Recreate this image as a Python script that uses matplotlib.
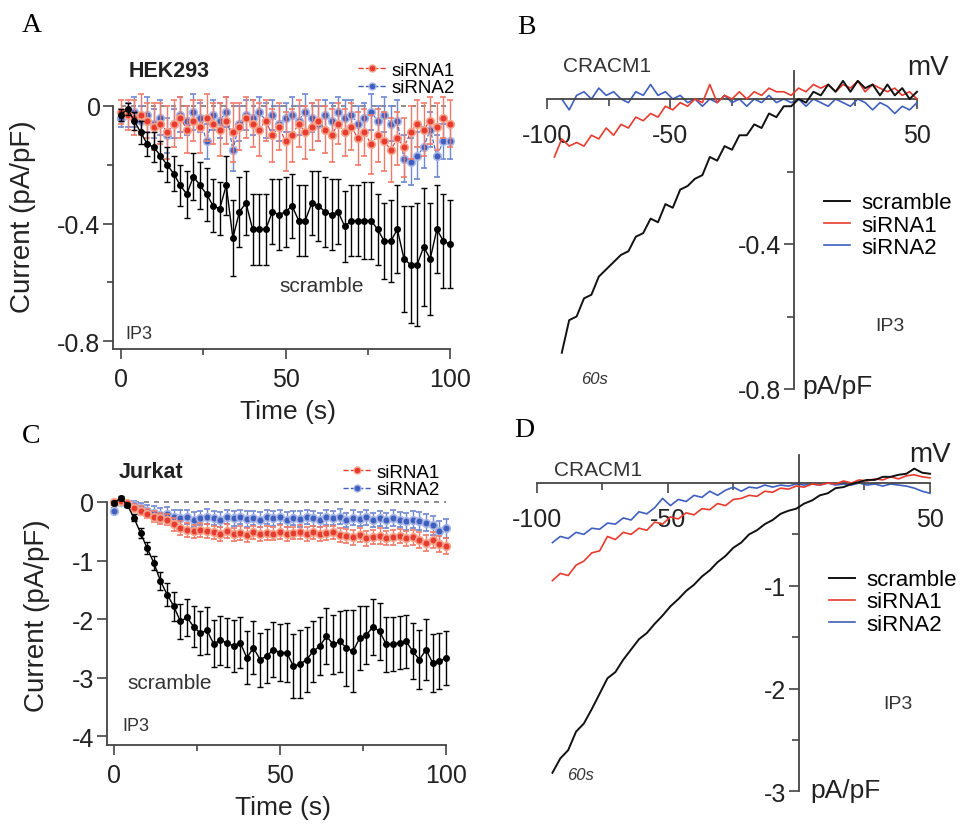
import numpy as np
import matplotlib
matplotlib.use('Agg')
import matplotlib.pyplot as plt
from matplotlib.lines import Line2D

plt.rcParams['font.family'] = ['Liberation Sans', 'DejaVu Sans']
plt.rcParams['axes.unicode_minus'] = False

W, H = 960, 828
RED = '#e63b2e'
BLUE = '#3f5fbf'
AXC = '#444444'

# time courses (s)
t = np.arange(0, 101, 2)

# panel A - HEK293
a_scr = [-0.03, -0.01, -0.05, -0.09, -0.13, -0.14, -0.17, -0.20, -0.23, -0.27,
         -0.30, -0.24, -0.27, -0.30, -0.34, -0.35, -0.27, -0.45, -0.36, -0.33,
         -0.42, -0.42, -0.42, -0.36, -0.37, -0.36, -0.34, -0.39, -0.39, -0.33,
         -0.34, -0.36, -0.37, -0.36, -0.41, -0.39, -0.39, -0.39, -0.39, -0.42,
         -0.46, -0.46, -0.42, -0.52, -0.54, -0.54, -0.48, -0.52, -0.42, -0.46,
         -0.47]
a_scr_err = [0.02, 0.02, 0.03, 0.04, 0.04, 0.05, 0.05, 0.06, 0.06, 0.07,
             0.08, 0.08, 0.08, 0.09, 0.09, 0.09, 0.10, 0.13, 0.12, 0.11,
             0.12, 0.12, 0.12, 0.11, 0.12, 0.12, 0.11, 0.12, 0.12, 0.11,
             0.12, 0.12, 0.12, 0.11, 0.12, 0.12, 0.12, 0.13, 0.13, 0.12,
             0.13, 0.14, 0.15, 0.18, 0.20, 0.21, 0.20, 0.19, 0.15, 0.16,
             0.15]
a_si1 = [-0.02, -0.03, -0.04, -0.03, -0.05, -0.07, -0.06, -0.09, -0.06, -0.04,
         -0.08, -0.05, -0.07, -0.04, -0.06, -0.08, -0.05, -0.09, -0.07, -0.04,
         -0.06, -0.08, -0.05, -0.10, -0.07, -0.12, -0.10, -0.06, -0.09, -0.07,
         -0.05, -0.08, -0.10, -0.06, -0.09, -0.07, -0.11, -0.09, -0.13, -0.10,
         -0.12, -0.15, -0.11, -0.14, -0.09, -0.06, -0.08, -0.05, -0.07, -0.04,
         -0.06]
a_si1_err = [0.04, 0.05, 0.06, 0.07, 0.06, 0.08, 0.07, 0.09, 0.08, 0.07,
             0.08, 0.07, 0.09, 0.08, 0.07, 0.09, 0.08, 0.10, 0.08, 0.07,
             0.08, 0.09, 0.07, 0.09, 0.08, 0.10, 0.09, 0.08, 0.09, 0.08,
             0.07, 0.08, 0.09, 0.07, 0.08, 0.08, 0.09, 0.08, 0.10, 0.09,
             0.10, 0.11, 0.09, 0.10, 0.09, 0.08, 0.09, 0.08, 0.08, 0.07,
             0.08]
a_si2 = [-0.04, -0.03, -0.02, -0.05, -0.03, -0.06, -0.04, -0.10, -0.06, -0.03,
         -0.05, -0.02, -0.04, -0.12, -0.03, -0.05, -0.02, -0.15, -0.06, -0.03,
         -0.04, -0.02, -0.05, -0.03, -0.06, -0.04, -0.03, -0.05, -0.02, -0.04,
         -0.06, -0.03, -0.05, -0.02, -0.04, -0.03, -0.06, -0.04, -0.02, -0.05,
         -0.03, -0.06, -0.05, -0.18, -0.19, -0.17, -0.14, -0.08, -0.17, -0.12,
         -0.12]
a_si2_err = [0.03, 0.04, 0.05, 0.05, 0.06, 0.05, 0.06, 0.06, 0.05, 0.06,
             0.05, 0.06, 0.05, 0.06, 0.05, 0.06, 0.05, 0.07, 0.06, 0.05,
             0.06, 0.05, 0.06, 0.05, 0.06, 0.05, 0.06, 0.05, 0.06, 0.05,
             0.06, 0.05, 0.06, 0.05, 0.06, 0.05, 0.06, 0.05, 0.06, 0.05,
             0.06, 0.06, 0.07, 0.08, 0.08, 0.08, 0.07, 0.06, 0.07, 0.06,
             0.06]

# panel C - Jurkat
c_scr = [-0.02, 0.07, -0.05, -0.27, -0.53, -0.79, -1.04, -1.35, -1.58, -1.78,
         -2.04, -1.97, -2.13, -2.24, -2.19, -2.42, -2.36, -2.40, -2.46, -2.40,
         -2.66, -2.49, -2.69, -2.63, -2.52, -2.57, -2.57, -2.80, -2.77, -2.69,
         -2.55, -2.46, -2.29, -2.43, -2.38, -2.49, -2.55, -2.32, -2.27, -2.13,
         -2.21, -2.43, -2.43, -2.40, -2.38, -2.55, -2.69, -2.52, -2.75, -2.72,
         -2.66]
c_scr_err = [0.03, 0.03, 0.04, 0.06, 0.08, 0.10, 0.12, 0.15, 0.20, 0.25,
             0.30, 0.32, 0.35, 0.38, 0.40, 0.40, 0.42, 0.42, 0.44, 0.44,
             0.45, 0.45, 0.46, 0.46, 0.47, 0.48, 0.50, 0.55, 0.58, 0.55,
             0.52, 0.50, 0.48, 0.50, 0.52, 0.65, 0.70, 0.55, 0.50, 0.48,
             0.48, 0.47, 0.46, 0.45, 0.45, 0.48, 0.50, 0.52, 0.50, 0.48,
             0.46]
c_si1 = [0.00, 0.02, -0.02, -0.10, -0.15, -0.20, -0.25, -0.28, -0.30, -0.38,
         -0.45, -0.48, -0.50, -0.47, -0.50, -0.52, -0.54, -0.50, -0.55, -0.53,
         -0.56, -0.52, -0.55, -0.53, -0.54, -0.52, -0.55, -0.53, -0.51, -0.54,
         -0.52, -0.55, -0.53, -0.52, -0.56, -0.58, -0.60, -0.57, -0.62, -0.60,
         -0.58, -0.62, -0.60, -0.58, -0.62, -0.60, -0.65, -0.70, -0.65, -0.72,
         -0.75]
c_si1_err = [0.03, 0.03, 0.04, 0.06, 0.08, 0.08, 0.09, 0.10, 0.10, 0.11,
             0.12, 0.12, 0.11, 0.12, 0.12, 0.11, 0.12, 0.12, 0.11, 0.12,
             0.12, 0.11, 0.12, 0.12, 0.11, 0.12, 0.12, 0.11, 0.12, 0.12,
             0.11, 0.12, 0.12, 0.11, 0.12, 0.12, 0.13, 0.12, 0.13, 0.12,
             0.13, 0.12, 0.13, 0.12, 0.13, 0.13, 0.14, 0.13, 0.14, 0.14,
             0.14]
c_si2 = [-0.15, 0.00, -0.03, -0.05, -0.10, -0.15, -0.18, -0.22, -0.20, -0.25,
         -0.27, -0.25, -0.30, -0.27, -0.25, -0.28, -0.30, -0.26, -0.28, -0.25,
         -0.29, -0.27, -0.30, -0.26, -0.28, -0.25, -0.30, -0.27, -0.29, -0.25,
         -0.28, -0.30, -0.26, -0.28, -0.25, -0.30, -0.27, -0.29, -0.26, -0.30,
         -0.28, -0.31, -0.27, -0.30, -0.33, -0.30, -0.32, -0.35, -0.40, -0.50,
         -0.45]
c_si2_err = [0.05, 0.04, 0.05, 0.07, 0.09, 0.10, 0.11, 0.12, 0.12, 0.12,
             0.13, 0.12, 0.13, 0.12, 0.13, 0.12, 0.13, 0.12, 0.13, 0.12,
             0.13, 0.12, 0.13, 0.12, 0.13, 0.12, 0.13, 0.12, 0.13, 0.12,
             0.13, 0.12, 0.13, 0.12, 0.13, 0.12, 0.13, 0.12, 0.13, 0.12,
             0.13, 0.13, 0.14, 0.13, 0.14, 0.14, 0.15, 0.15, 0.16, 0.17,
             0.16]

# I-V curves (mV)
v = np.arange(-94, 51, 3)
v_red_b = np.arange(-97, 51, 3)

b_scr = [-0.70, -0.61, -0.60, -0.55, -0.54, -0.49, -0.47, -0.45, -0.43, -0.42,
         -0.38, -0.37, -0.33, -0.34, -0.29, -0.30, -0.25, -0.24, -0.22, -0.21,
         -0.16, -0.17, -0.13, -0.14, -0.10, -0.10, -0.07, -0.08, -0.04, -0.05,
         -0.02, -0.02, 0.00, -0.01, 0.02, 0.01, 0.04, 0.02, 0.05, 0.02,
         0.05, 0.03, 0.04, 0.01, 0.04, 0.01, 0.03, 0.00, 0.02]
b_si1 = [-0.16, -0.11, -0.13, -0.12, -0.13, -0.10, -0.11, -0.08, -0.10, -0.07,
         -0.08, -0.05, -0.06, -0.04, -0.05, -0.02, -0.03, -0.01, -0.02, 0.00,
         -0.01, 0.04, -0.01, 0.01, 0.00, 0.02, 0.00, 0.02, 0.01, 0.03,
         0.02, 0.02, 0.01, 0.03, 0.02, 0.04, 0.03, 0.04, 0.02, 0.04,
         0.03, 0.05, 0.02, 0.04, 0.03, 0.02, 0.03, 0.01, 0.02, 0.00]
b_si2 = [0.00, -0.03, 0.01, 0.02, 0.00, 0.03, 0.01, 0.02, 0.00, -0.01,
         0.02, 0.01, 0.04, 0.01, 0.02, 0.00, 0.01, -0.01, 0.00, -0.02,
         0.00, -0.01, 0.01, -0.01, 0.00, -0.02, 0.00, -0.01, 0.01, -0.01,
         0.00, -0.01, 0.00, -0.02, 0.00, -0.01, -0.02, 0.00, -0.01, -0.02,
         0.00, -0.01, -0.03, -0.01, -0.02, -0.04, -0.02, -0.03, -0.01]

d_scr = [-2.82, -2.68, -2.60, -2.42, -2.34, -2.20, -2.05, -1.90, -1.84, -1.72,
         -1.62, -1.52, -1.46, -1.37, -1.29, -1.20, -1.13, -1.05, -0.99, -0.91,
         -0.85, -0.77, -0.71, -0.63, -0.58, -0.50, -0.46, -0.40, -0.36, -0.30,
         -0.27, -0.25, -0.20, -0.17, -0.12, -0.10, -0.05, -0.04, -0.01, 0.01,
         0.03, 0.03, 0.06, 0.06, 0.08, 0.09, 0.14, 0.10, 0.09]
d_si1 = [-0.95, -0.88, -0.90, -0.80, -0.76, -0.68, -0.66, -0.52, -0.55, -0.48,
         -0.50, -0.44, -0.46, -0.38, -0.40, -0.33, -0.35, -0.29, -0.31, -0.25,
         -0.26, -0.20, -0.22, -0.16, -0.15, -0.12, -0.13, -0.08, -0.09, -0.05,
         -0.06, -0.03, -0.04, -0.01, -0.02, 0.00, -0.01, 0.02, 0.00, 0.03,
         0.02, 0.04, 0.03, 0.06, 0.04, 0.07, 0.08, 0.06, 0.05]
d_si2 = [-0.58, -0.52, -0.54, -0.48, -0.50, -0.44, -0.45, -0.39, -0.40, -0.34,
         -0.36, -0.28, -0.30, -0.24, -0.15, -0.22, -0.16, -0.18, -0.12, -0.14,
         -0.08, -0.12, -0.07, -0.04, -0.08, -0.04, -0.05, -0.02, -0.04, -0.02,
         -0.03, -0.01, -0.02, -0.01, -0.02, 0.00, -0.02, -0.01, -0.02, 0.00,
         -0.02, -0.01, -0.03, -0.01, -0.02, -0.03, -0.05, -0.08, -0.10]

fig = plt.figure(figsize=(9.6, 8.28), dpi=100)


def place(xd, xp, yd, yp, xlim, ylim):
    # axes rect from two known data->pixel pairs per axis
    sx = (xp[1] - xp[0]) / (xd[1] - xd[0])
    sy = (yp[1] - yp[0]) / (yd[1] - yd[0])
    l = xp[0] + (xlim[0] - xd[0]) * sx
    r = xp[0] + (xlim[1] - xd[0]) * sx
    top = yp[0] + (ylim[1] - yd[0]) * sy
    bot = yp[0] + (ylim[0] - yd[0]) * sy
    ax = fig.add_axes([l / W, 1 - bot / H, (r - l) / W, (bot - top) / H])
    ax.set_xlim(xlim)
    ax.set_ylim(ylim)
    ax.patch.set_alpha(0)
    return ax


def ftext(x, y, s, **kw):
    kw.setdefault('ha', 'center')
    kw.setdefault('va', 'center')
    fig.text(x / W, 1 - y / H, s, **kw)


def time_panel(ax, xlo, ylo, yticks, ylabels, yminor):
    for s in ['top', 'right']:
        ax.spines[s].set_visible(False)
    for s in ['left', 'bottom']:
        ax.spines[s].set_color(AXC)
        ax.spines[s].set_linewidth(1.3)
    ax.spines['left'].set_bounds(ylo, 0)
    ax.spines['bottom'].set_bounds(xlo, 100)
    ax.set_xticks([0, 50, 100])
    ax.set_xticklabels(['0', '50', '100'])
    ax.set_xticks([25, 75], minor=True)
    ax.set_yticks(yticks)
    ax.set_yticklabels(ylabels)
    ax.set_yticks(yminor, minor=True)
    ax.tick_params(which='both', direction='out', color=AXC, width=1.2,
                   labelsize=18, labelcolor='#222222')
    ax.tick_params(which='major', length=7)
    ax.tick_params(which='minor', length=4)
    ax.tick_params(axis='x', pad=6)
    ax.tick_params(axis='y', pad=2)
    ax.plot([0, 100], [0, 0], ls=(0, (3, 3)), color='#777777', lw=1.2, zorder=1)


def draw_series(ax, y, e, si1, e1, si2, e2):
    ax.errorbar(t, si2, yerr=e2, fmt='o', ls='--', lw=0.8, color=BLUE, ms=5.5,
                mfc=BLUE, mec='#a9b7e6', mew=1.2, ecolor='#6f86d0',
                elinewidth=1, capsize=2.5, capthick=1, zorder=2)
    ax.errorbar(t, si1, yerr=e1, fmt='o', ls='--', lw=0.8, color=RED, ms=5.5,
                mfc=RED, mec='#f6a58c', mew=1.2, ecolor='#f07a6a',
                elinewidth=1, capsize=2.5, capthick=1, zorder=3)
    ax.errorbar(t, y, yerr=e, fmt='o', ls='-', lw=1.0, color='black', ms=4,
                mfc='black', mec='black', ecolor='black',
                elinewidth=1, capsize=2.5, capthick=1, zorder=4)


def time_legend(ax, x, y, fs):
    h = [Line2D([], [], color=RED, ls='--', lw=1, marker='o', ms=5, mfc=RED, mec='#f6a58c'),
         Line2D([], [], color=BLUE, ls='--', lw=1, marker='o', ms=5, mfc=BLUE, mec='#a9b7e6')]
    ax.legend(h, ['siRNA1', 'siRNA2'], loc='center right',
              bbox_to_anchor=(x / W, 1 - y / H), bbox_transform=fig.transFigure,
              frameon=False, fontsize=fs, handlelength=1.5, handletextpad=0.3,
              labelspacing=0.0, borderpad=0, borderaxespad=0)


def iv_panel(ax, ylo, yticks, ylabels, yminor):
    for s in ['top', 'right']:
        ax.spines[s].set_visible(False)
    ax.spines['left'].set_position(('data', 0))
    ax.spines['bottom'].set_position(('data', 0))
    for s in ['left', 'bottom']:
        ax.spines[s].set_color(AXC)
        ax.spines[s].set_linewidth(1.3)
    ax.set_xticks([-100, -50, 50])
    ax.set_xticklabels(['-100', '-50', '50'])
    ax.set_xticks([-75, -25, 25], minor=True)
    ax.set_yticks(yticks)
    ax.set_yticklabels(ylabels)
    ax.set_yticks(yminor, minor=True)
    ax.tick_params(which='both', direction='out', color=AXC, width=1.2,
                   labelsize=18, labelcolor='#222222')
    ax.tick_params(which='major', length=7)
    ax.tick_params(which='minor', length=5)
    ax.tick_params(axis='x', pad=10)
    ax.tick_params(axis='y', pad=2)


def iv_legend(ax, x, y):
    ax.legend(['scramble', 'siRNA1', 'siRNA2'], loc='center right',
              bbox_to_anchor=(x / W, 1 - y / H), bbox_transform=fig.transFigure,
              frameon=False, fontsize=16, handlelength=1.2, handletextpad=0.5,
              labelspacing=0.05, borderpad=0, borderaxespad=0)


# ---- A ----
axA = place((0, 100), (121, 450), (0, -0.8), (107, 342), (-2.4, 103), (-0.827, 0.2))
time_panel(axA, -2.4, -0.827, [0, -0.4, -0.8], ['0', '-0.4', '-0.8'], [-0.2, -0.6])
draw_series(axA, a_scr, a_scr_err, a_si1, a_si1_err, a_si2, a_si2_err)
time_legend(axA, 455, 80, 13.5)

# ---- C ----
axC = place((0, 100), (114, 446), (0, -4), (503, 737.3), (-2.2, 103), (-4.14, 1.0))
time_panel(axC, -2.2, -4.14, [0, -1, -2, -3, -4], ['0', '-1', '-2', '-3', '-4'], [])
draw_series(axC, c_scr, c_scr_err, c_si1, c_si1_err, c_si2, c_si2_err)
time_legend(axC, 440, 482, 13.5)

# ---- B ----
axB = place((-100, 50), (547, 917), (0, -0.8), (100, 390), (-106, 56), (-0.83, 0.12))
iv_panel(axB, -0.8, [-0.4, -0.8], ['-0.4', '-0.8'], [-0.2, -0.6])
axB.spines['left'].set_bounds(-0.8, 0.078)
axB.spines['bottom'].set_bounds(-100, 50)
axB.plot(v, b_scr, color='#111111', lw=1.4, zorder=4)
axB.plot(v_red_b, b_si1, color=RED, lw=1.2, zorder=3)
axB.plot(v, b_si2, color=BLUE, lw=1.2, zorder=2)
iv_legend(axB, 952, 226)

# ---- D ----
axD = place((-100, 50), (536.7, 930), (0, -3), (484, 792.3), (-106, 56), (-3.1, 0.35))
iv_panel(axD, -3, [-1, -2, -3], ['-1', '-2', '-3'], [-0.5, -1.5, -2.5])
axD.spines['left'].set_bounds(-3, 0.275)
axD.spines['bottom'].set_bounds(-100, 50)
axD.plot(v, d_scr, color='#111111', lw=1.4, zorder=4)
axD.plot(v, d_si1, color=RED, lw=1.2, zorder=3)
axD.plot(v, d_si2, color=BLUE, lw=1.2, zorder=2)
iv_legend(axD, 957, 603)

# ---- text ----
serif = ['Liberation Serif', 'DejaVu Serif']
ftext(32, 26, 'A', fontsize=20, family=serif)
ftext(526, 28, 'B', fontsize=20, family=serif)
ftext(31, 437, 'C', fontsize=20, family=serif)
ftext(524, 431, 'D', fontsize=20, family=serif)

ftext(23, 217, 'Current (pA/pF)', fontsize=20, rotation=90, color='#222222')
ftext(37, 616, 'Current (pA/pF)', fontsize=20, rotation=90, color='#222222')
ftext(288, 412, 'Time (s)', fontsize=19, color='#222222')
ftext(283, 808, 'Time (s)', fontsize=19, color='#222222')

ftext(169, 72, 'HEK293', fontsize=15.5, weight='bold', color='#222222')
ftext(322, 286, 'scramble', fontsize=15, color='#333333')
ftext(139, 335, 'IP3', fontsize=13, color='#333333')
ftext(151, 473, 'Jurkat', fontsize=15.5, weight='bold', color='#222222')
ftext(170, 684, 'scramble', fontsize=15, color='#333333')
ftext(136, 727, 'IP3', fontsize=13, color='#333333')

ftext(607, 66, 'CRACM1', fontsize=15, color='#333333')
ftext(928, 68, 'mV', fontsize=20, color='#222222')
ftext(595, 380, '60s', fontsize=12, style='italic', color='#333333')
ftext(890, 327, 'IP3', fontsize=14, color='#333333')
ftext(802, 387, 'pA/pF', fontsize=19, ha='left', color='#222222')

ftext(598, 471, 'CRACM1', fontsize=15, color='#333333')
ftext(930, 455, 'mV', fontsize=20, color='#222222')
ftext(581, 776, '60s', fontsize=12, style='italic', color='#333333')
ftext(898, 705, 'IP3', fontsize=14, color='#333333')
ftext(810, 791, 'pA/pF', fontsize=19, ha='left', color='#222222')

fig.savefig('out.png', dpi=100)
